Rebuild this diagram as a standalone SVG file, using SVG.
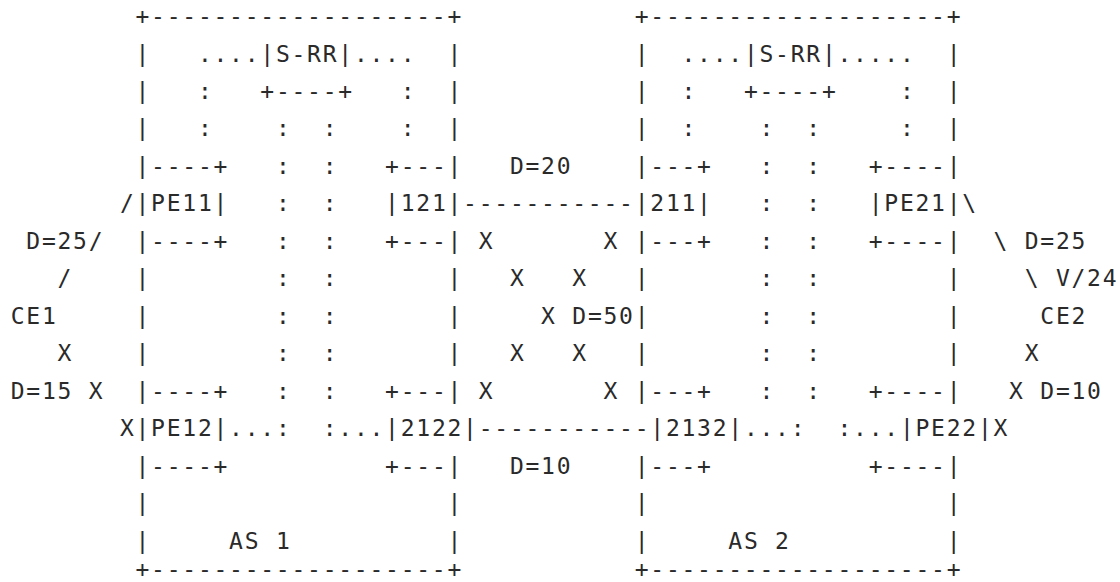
<svg xmlns="http://www.w3.org/2000/svg" width="1120" height="582" viewBox="0 0 1120 582">
<style>
text { font-family: "DejaVu Sans Mono", "Liberation Mono", monospace; font-size: 23px; fill: #2a2a2a; letter-spacing: 1.75px; white-space: pre; }
</style>
<rect width="1120" height="582" fill="#ffffff"/>
<g id="as1">
<text x="135.5" y="24">+-------------------+</text>
<text x="135.5" y="61.5">|</text><text x="447.5" y="61.5">|</text>
<text x="135.5" y="98.9">|</text><text x="447.5" y="98.9">|</text>
<text x="135.5" y="136.4">|</text><text x="447.5" y="136.4">|</text>
<text x="135.5" y="286.3">|</text><text x="447.5" y="286.3">|</text>
<text x="135.5" y="323.8">|</text><text x="447.5" y="323.8">|</text>
<text x="135.5" y="361.2">|</text><text x="447.5" y="361.2">|</text>
<text x="135.5" y="511.1">|</text><text x="447.5" y="511.1">|</text>
<text x="135.5" y="548.6">|</text><text x="229.1" y="548.6">AS 1</text><text x="447.5" y="548.6">|</text>
<text x="135.5" y="577">+-------------------+</text>
</g>
<g id="srr1">
<text x="260.3" y="61.5">|S-RR|</text>
<text x="260.3" y="98.9">+----+</text>
</g>
<g id="pe11">
<text x="135.5" y="173.9">|----+</text>
<text x="135.5" y="211.4">|PE11|</text>
<text x="135.5" y="248.8">|----+</text>
</g>
<g id="r121">
<text x="385.1" y="173.9">+---|</text>
<text x="385.1" y="211.4">|121|</text>
<text x="385.1" y="248.8">+---|</text>
</g>
<g id="pe12">
<text x="135.5" y="398.7">|----+</text>
<text x="135.5" y="436.2">|PE12|</text>
<text x="135.5" y="473.6">|----+</text>
</g>
<g id="r2122">
<text x="385.1" y="398.7">+---|</text>
<text x="385.1" y="436.2">|2122|</text>
<text x="385.1" y="473.6">+---|</text>
</g>
<g id="as2">
<text x="634.7" y="24">+-------------------+</text>
<text x="634.7" y="61.5">|</text><text x="946.7" y="61.5">|</text>
<text x="634.7" y="98.9">|</text><text x="946.7" y="98.9">|</text>
<text x="634.7" y="136.4">|</text><text x="946.7" y="136.4">|</text>
<text x="634.7" y="286.3">|</text><text x="946.7" y="286.3">|</text>
<text x="634.7" y="323.8">|</text><text x="946.7" y="323.8">|</text>
<text x="634.7" y="361.2">|</text><text x="946.7" y="361.2">|</text>
<text x="634.7" y="511.1">|</text><text x="946.7" y="511.1">|</text>
<text x="634.7" y="548.6">|</text><text x="728.3" y="548.6">AS 2</text><text x="946.7" y="548.6">|</text>
<text x="634.7" y="577">+-------------------+</text>
</g>
<g id="srr2">
<text x="743.9" y="61.5">|S-RR|</text>
<text x="743.9" y="98.9">+----+</text>
</g>
<g id="r211">
<text x="634.7" y="173.9">|---+</text>
<text x="634.7" y="211.4">|211|</text>
<text x="634.7" y="248.8">|---+</text>
</g>
<g id="pe21">
<text x="868.7" y="173.9">+----|</text>
<text x="868.7" y="211.4">|PE21|</text>
<text x="868.7" y="248.8">+----|</text>
</g>
<g id="r2132">
<text x="634.7" y="398.7">|---+</text>
<text x="650.3" y="436.2">|2132|</text>
<text x="634.7" y="473.6">|---+</text>
</g>
<g id="pe22">
<text x="868.7" y="398.7">+----|</text>
<text x="899.9" y="436.2">|PE22|</text>
<text x="868.7" y="473.6">+----|</text>
</g>
<g id="ce1"><text x="10.7" y="323.8">CE1</text></g>
<g id="ce2"><text x="1040.3" y="323.8">CE2</text></g>
<g id="connectors">
<text x="197.9" y="61.5">....</text><text x="353.9" y="61.5">....</text>
<text x="681.5" y="61.5">....</text><text x="837.5" y="61.5">.....</text>
<text x="197.9" y="98.9">:</text><text x="400.7" y="98.9">:</text>
<text x="681.5" y="98.9">:</text><text x="899.9" y="98.9">:</text>
<text x="197.9" y="136.4">:</text><text x="275.9" y="136.4">:</text><text x="322.7" y="136.4">:</text><text x="400.7" y="136.4">:</text>
<text x="681.5" y="136.4">:</text><text x="759.5" y="136.4">:</text><text x="806.3" y="136.4">:</text><text x="899.9" y="136.4">:</text>
<text x="275.9" y="173.9">:</text><text x="322.7" y="173.9">:</text><text x="759.5" y="173.9">:</text><text x="806.3" y="173.9">:</text>
<text x="275.9" y="211.4">:</text><text x="322.7" y="211.4">:</text><text x="759.5" y="211.4">:</text><text x="806.3" y="211.4">:</text>
<text x="275.9" y="248.8">:</text><text x="322.7" y="248.8">:</text><text x="759.5" y="248.8">:</text><text x="806.3" y="248.8">:</text>
<text x="275.9" y="286.3">:</text><text x="322.7" y="286.3">:</text><text x="759.5" y="286.3">:</text><text x="806.3" y="286.3">:</text>
<text x="275.9" y="323.8">:</text><text x="322.7" y="323.8">:</text><text x="759.5" y="323.8">:</text><text x="806.3" y="323.8">:</text>
<text x="275.9" y="361.2">:</text><text x="322.7" y="361.2">:</text><text x="759.5" y="361.2">:</text><text x="806.3" y="361.2">:</text>
<text x="275.9" y="398.7">:</text><text x="322.7" y="398.7">:</text><text x="759.5" y="398.7">:</text><text x="806.3" y="398.7">:</text>
<text x="229.1" y="436.2">...:</text><text x="322.7" y="436.2">:...</text>
<text x="743.9" y="436.2">...:</text><text x="837.5" y="436.2">:...</text>
<text x="509.9" y="173.9">D=20</text>
<text x="119.9" y="211.4">/</text><text x="463.1" y="211.4">-----------</text><text x="962.3" y="211.4">\</text>
<text x="26.3" y="248.8">D=25/</text><text x="478.7" y="248.8">X</text><text x="603.5" y="248.8">X</text><text x="993.5" y="248.8">\</text><text x="1024.7" y="248.8">D=25</text>
<text x="57.5" y="286.3">/</text><text x="509.9" y="286.3">X</text><text x="572.3" y="286.3">X</text><text x="1024.7" y="286.3">\</text><text x="1055.9" y="286.3">V/24</text>
<text x="541.1" y="323.8">X</text><text x="572.3" y="323.8">D=50</text>
<text x="57.5" y="361.2">X</text><text x="509.9" y="361.2">X</text><text x="572.3" y="361.2">X</text><text x="1024.7" y="361.2">X</text>
<text x="10.7" y="398.7">D=15</text><text x="88.7" y="398.7">X</text><text x="478.7" y="398.7">X</text><text x="603.5" y="398.7">X</text><text x="1009.1" y="398.7">X</text><text x="1040.3" y="398.7">D=10</text>
<text x="119.9" y="436.2">X</text><text x="478.7" y="436.2">-----------</text><text x="993.5" y="436.2">X</text>
<text x="509.9" y="473.6">D=10</text>
</g>
</svg>
